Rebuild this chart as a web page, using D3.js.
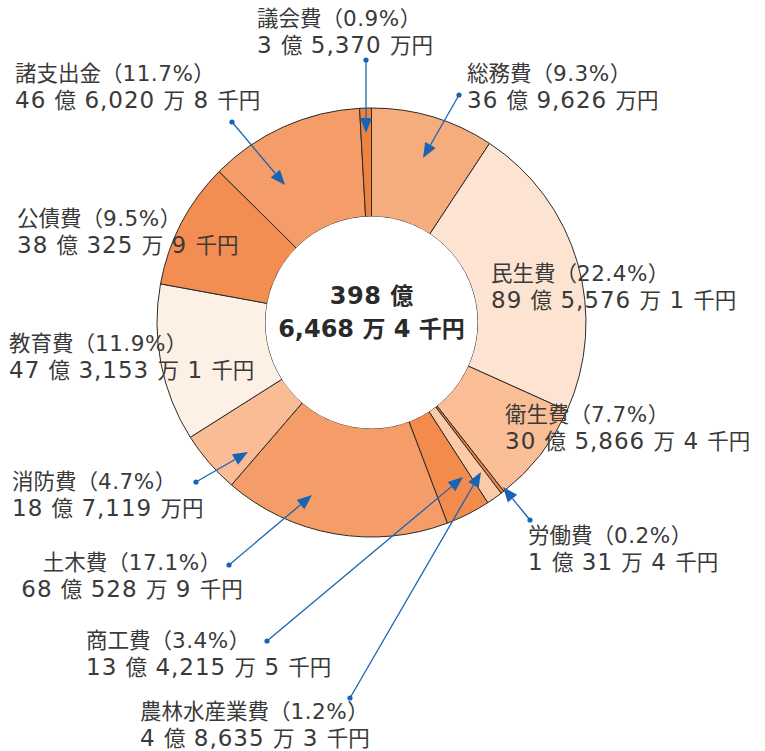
<!DOCTYPE html>
<html lang="ja">
<head>
<meta charset="utf-8">
<script src="https://cdn.jsdelivr.net/npm/d3@7"></script>
<style>
  html, body { margin: 0; padding: 0; background: #fff; }
  svg { display: block; }
  text { font-family: "Noto Sans CJK JP", "Noto Sans", sans-serif; }
  tspan.num { font-family: "DejaVu Sans", "Noto Sans CJK JP", sans-serif; }
</style>
</head>
<body>
<svg id="chart" width="765" height="751"></svg>
<script>
// categories, clockwise from 12 o'clock
const names = ['総務費', '民生費', '衛生費', '労働費', '農林水産業費', '商工費',
  '土木費', '消防費', '教育費', '公債費', '諸支出金', '議会費'];
// amounts in 千円
const amounts = [3696260, 8955761, 3058664, 100314, 486353, 1342155,
  6805289, 1871190, 4731531, 3803259, 4660208, 353700];
// shares as printed
const shares = ['9.3', '22.4', '7.7', '0.2', '1.2', '3.4',
  '17.1', '4.7', '11.9', '9.5', '11.7', '0.9'];
const colours = ['#f6ad7d', '#fde4d2', '#fbbf98', '#ef7f3c', '#fbcaa7', '#f38b4d',
  '#f59d69', '#f9bc95', '#fdf0e5', '#f48d52', '#f59d69', '#f08240'];

// label placement: text x, first baseline, anchor, leader dot, arrow tip
const layout = {
  '総務費': { x: 467, y: 81, anchor: 'start', dot: [459, 95], tip: [423, 158] },
  '民生費': { x: 491, y: 281, anchor: 'start' },
  '衛生費': { x: 505, y: 422, anchor: 'start' },
  '労働費': { x: 528, y: 543, anchor: 'start', dot: [530, 520], tip: [503, 487] },
  '農林水産業費': { x: 140, y: 719, anchor: 'start', dot: [350, 698], tip: [481, 472] },
  '商工費': { x: 86, y: 648, anchor: 'start', dot: [267, 641], tip: [463, 477] },
  '土木費': { x: 132, y: 570, anchor: 'middle', dot: [229, 565], tip: [312, 495] },
  '消防費': { x: 12, y: 489, anchor: 'start', dot: [196, 482], tip: [248, 452] },
  '教育費': { x: 9, y: 351, anchor: 'start' },
  '公債費': { x: 17, y: 226, anchor: 'start' },
  '諸支出金': { x: 15, y: 81, anchor: 'start', dot: [232, 122], tip: [285, 185] },
  '議会費': { x: 257, y: 26, anchor: 'start', dot: [366, 60], tip: [366, 133] },
};

const cx = 371.5;
const cy = 322.5;
const outerR = 214.5;
const innerR = 106;
const lineGap = 27;
const arrowBlue = '#1764b4';

// 千円 -> "36 億 9,626 万円" style
function yen(v) {
  const oku = Math.floor(v / 100000);
  const man = Math.floor((v % 100000) / 10);
  const sen = v % 10;
  let s = '';
  if (oku) s += `${oku} 億 `;
  if (man) s += `${d3.format(',')(man)} 万`;
  s += sen ? ` ${sen} 千円` : '円';
  return s;
}

// write one line straight into the text element; figures get the wider latin face
function addLine(text, x, y, str, numSize, spacing) {
  str.split(/([0-9.,% ]+)/).filter((s) => s.length).forEach((s, i) => {
    const t = text.append('tspan').text(s);
    if (i === 0) t.attr('x', x).attr('y', y);
    if (/^[0-9.,% ]+$/.test(s)) {
      t.attr('class', 'num')
        .style('font-size', numSize)
        .style('letter-spacing', `${spacing}px`);
    }
  });
}

const data = names.map((n, i) => ({ name: n, value: amounts[i], share: shares[i], colour: colours[i] }));

const svg = d3.select('#chart');
const g = svg.append('g').attr('transform', `translate(${cx},${cy})`);

const pie = d3.pie().sort(null).value((d) => d.value);
const arc = d3.arc().innerRadius(innerR).outerRadius(outerR);

g.selectAll('path.slice')
  .data(pie(data))
  .join('path')
  .attr('class', 'slice')
  .attr('d', arc)
  .attr('fill', (d) => d.data.colour)
  .attr('stroke', '#2b2b2b')
  .attr('stroke-width', 1);

// clean white hole over the inner edge strokes
g.append('circle').attr('r', innerR).attr('fill', '#fff');

// centre total
const total = d3.sum(amounts);
const totalParts = yen(total).split(' 億 ');
const centreStyle = (t) => t.attr('text-anchor', 'middle')
  .style('font-size', '23px')
  .style('font-weight', 'bold')
  .style('fill', '#2a2a2a');
addLine(centreStyle(g.append('text')), 0, -19, `${totalParts[0]} 億`, '24px', 0.5);
addLine(centreStyle(g.append('text')), 0, 14, totalParts[1], '24px', 0);

// labels, two text elements per category
const labels = svg.append('g').attr('class', 'labels');
data.forEach((d) => {
  const p = layout[d.name];
  const mk = () => labels.append('text')
    .attr('text-anchor', p.anchor)
    .style('font-size', '21.5px')
    .style('fill', '#3a3a3a');
  addLine(mk(), p.x, p.y, `${d.name}（${d.share}%）`, '21.5px', 0.5);
  addLine(mk(), p.x, p.y + lineGap, yen(d.value), '23px', 1);
});

// leader arrows
const arrows = svg.append('g').attr('class', 'arrows');
data.filter((d) => layout[d.name].dot).forEach((d) => {
  const [x0, y0] = layout[d.name].dot;
  const [x1, y1] = layout[d.name].tip;
  const len = Math.hypot(x1 - x0, y1 - y0);
  const ux = (x1 - x0) / len;
  const uy = (y1 - y0) / len;
  const head = 15;
  const half = 6;
  const bx = x1 - ux * head;
  const by = y1 - uy * head;
  arrows.append('line')
    .attr('x1', x0).attr('y1', y0)
    .attr('x2', bx).attr('y2', by)
    .attr('stroke', arrowBlue)
    .attr('stroke-width', 1.3);
  arrows.append('circle')
    .attr('cx', x0).attr('cy', y0).attr('r', 2.6)
    .attr('fill', arrowBlue);
  arrows.append('path')
    .attr('d', `M${x1},${y1}L${bx - uy * half},${by + ux * half}L${bx + uy * half},${by - ux * half}Z`)
    .attr('fill', arrowBlue);
});
</script>
</body>
</html>
